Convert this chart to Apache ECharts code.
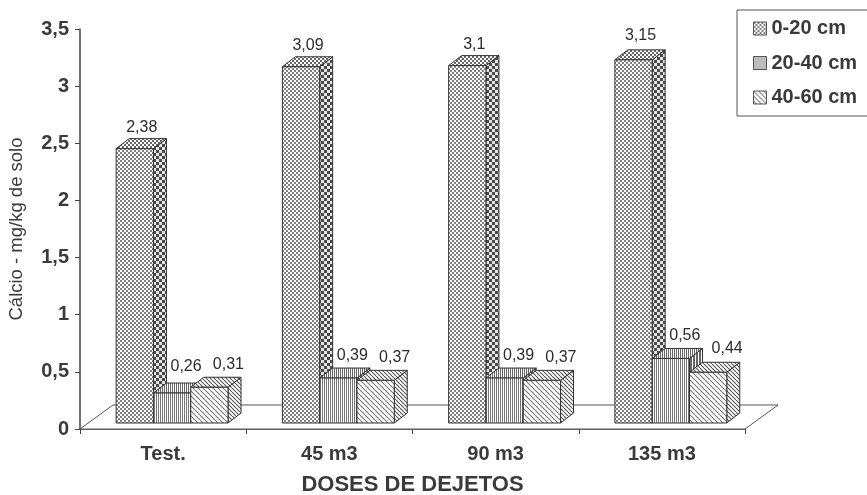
<!DOCTYPE html>
<html>
<head>
<meta charset="utf-8">
<style>html,body{margin:0;padding:0;background:#fff}#chart{width:867px;height:495px}</style>
<script src="https://cdn.jsdelivr.net/npm/echarts@6/dist/echarts.min.js"></script>
</head>
<body>
<div id="chart"></div>
<script>
// Calcium in soil by slurry dose and depth layer
const doses = ['Test.', '45 m3', '90 m3', '135 m3'];
const depthNames = ['0-20 cm', '20-40 cm', '40-60 cm'];
const layer0to20 = [2.38, 3.09, 3.1, 3.15];
const layer20to40 = [0.26, 0.39, 0.39, 0.56];
const layer40to60 = [0.31, 0.37, 0.37, 0.44];

const layers = [layer0to20, layer20to40, layer40to60];
const comma = v => String(v).replace('.', ',');

// Box geometry in pixels
const DEPTH_X = 13, DEPTH_Y = -10, BAR_W = 37.3, FIRST_BAR = -47;
const FLOOR_X = 33, FLOOR_Y = -24;

// Value label placement: sideways per layer, extra lift per label to keep them clear of neighbours
const labelDx = [1, 8, 13];
const labelLift = [[0, 0, 0, 3], [5, 1, 1, 2], [2, 2, 2, 3]];

function tile(w, h, paint, paper) {
  const c = document.createElement('canvas');
  c.width = w; c.height = h;
  const g = c.getContext('2d');
  g.fillStyle = paper || '#fff';
  g.fillRect(0, 0, w, h);
  paint(g);
  return { image: c, repeat: 'repeat' };
}
function checker(cell, color, paper) {
  return tile(cell * 2, cell * 2, g => {
    g.fillStyle = color;
    g.fillRect(0, 0, cell, cell);
    g.fillRect(cell, cell, cell, cell);
  }, paper);
}
function stripes(pitch, width, color) {
  return tile(pitch, 2, g => { g.fillStyle = color; g.fillRect(0, 0, width, 2); });
}
function diagonal(pitch, color) {
  return tile(pitch, pitch, g => {
    g.strokeStyle = color;
    g.lineWidth = 1.1;
    g.beginPath();
    for (let k = -pitch; k <= pitch; k += pitch) {
      g.moveTo(k, 0);
      g.lineTo(k + pitch, pitch);
    }
    g.stroke();
  });
}

const patterns = [
  { front: checker(2, '#808080'), top: checker(2, '#666'), side: checker(3, '#4a4a4a', '#e4e4e4') },
  { front: stripes(2, 1, '#777'), top: stripes(2, 1, '#666'), side: stripes(3, 2, '#666') },
  { front: diagonal(5, '#777'), top: diagonal(4, '#555'), side: diagonal(4, '#555') }
];

function boxRenderer(layerIndex) {
  return function (params, api) {
    const value = api.value(1);
    const base = api.coord([api.value(0), 0]);
    const top = api.coord([api.value(0), value]);
    const x0 = base[0] + FIRST_BAR + layerIndex * BAR_W;
    const x1 = x0 + BAR_W;
    const y0 = base[1], y1 = top[1];
    const line = { stroke: '#333', lineWidth: 1 };
    const p = patterns[layerIndex];
    return {
      type: 'group',
      children: [
        { type: 'polygon', shape: { points: [[x1, y0], [x1 + DEPTH_X, y0 + DEPTH_Y], [x1 + DEPTH_X, y1 + DEPTH_Y], [x1, y1]] },
          style: Object.assign({ fill: p.side }, line) },
        { type: 'polygon', shape: { points: [[x0, y1], [x1, y1], [x1 + DEPTH_X, y1 + DEPTH_Y], [x0 + DEPTH_X, y1 + DEPTH_Y]] },
          style: Object.assign({ fill: p.top }, line) },
        { type: 'rect', shape: { x: x0, y: y1, width: BAR_W, height: y0 - y1 },
          style: Object.assign({ fill: p.front }, line) },
        { type: 'text', x: (x0 + x1) / 2 + 6 + labelDx[layerIndex],
          y: y1 + DEPTH_Y - 11 - labelLift[layerIndex][params.dataIndex],
          style: { text: comma(value), fill: '#2c2c2c', font: '16px "Liberation Sans"', align: 'center', verticalAlign: 'middle' } }
      ]
    };
  };
}

function floorRenderer(params, api) {
  const cs = params.coordSys;
  const y = cs.y + cs.height, xl = cs.x, xr = cs.x + cs.width;
  return {
    type: 'polygon',
    shape: { points: [[xl, y], [xl + FLOOR_X, y + FLOOR_Y], [xr + FLOOR_X, y + FLOOR_Y], [xr, y]] },
    style: { fill: '#fff', stroke: '#555', lineWidth: 1 }
  };
}

const labelFont = { fontFamily: 'Liberation Sans', fontWeight: 'bold', fontSize: 20, color: '#3a3a3a' };

const option = {
  animation: false,
  backgroundColor: '#fff',
  legend: {
    orient: 'vertical',
    left: 737, top: 10,
    padding: [8.5, 40, 8.5, 16],
    itemWidth: 13, itemHeight: 13, itemGap: 14.5,
    borderColor: '#555', borderWidth: 1,
    backgroundColor: '#fff',
    icon: 'rect',
    selectedMode: false,
    itemStyle: { borderColor: '#555', borderWidth: 1 },
    textStyle: labelFont,
    data: depthNames
  },
  grid: [
    { left: 80, top: 29, width: 665, height: 400, outerBoundsMode: 'none' },
    { left: 80, top: 19.5, width: 665, height: 403.5, outerBoundsMode: 'none' }
  ],
  xAxis: [
    { type: 'category', gridIndex: 0, data: doses,
      name: 'DOSES DE DEJETOS', nameLocation: 'middle', nameGap: 45,
      nameTextStyle: Object.assign({}, labelFont, { fontSize: 22 }),
      axisLine: { lineStyle: { color: '#444', width: 1.5 } },
      axisTick: { show: true, length: 5, lineStyle: { color: '#444' } },
      axisLabel: Object.assign({ margin: 15, interval: 0 }, labelFont) },
    { type: 'category', gridIndex: 1, data: doses, show: false }
  ],
  yAxis: [
    { type: 'value', gridIndex: 0, min: 0, max: 3.5, interval: 0.5,
      name: 'Cálcio - mg/kg de solo', nameLocation: 'middle', nameGap: 54, nameRotate: 90,
      nameTextStyle: { fontFamily: 'Liberation Sans', fontSize: 18.5, color: '#3a3a3a' },
      axisLine: { show: true, lineStyle: { color: '#444', width: 1.5 } },
      axisTick: { show: true, length: 5, lineStyle: { color: '#444' } },
      splitLine: { show: false },
      axisLabel: Object.assign({ margin: 11, formatter: v => comma(v) }, labelFont) },
    { type: 'value', gridIndex: 1, min: 0, max: 3.5, show: false, splitLine: { show: false } }
  ],
  series: [
    { type: 'custom', name: 'floor', xAxisIndex: 0, yAxisIndex: 0, z: 1, silent: true,
      renderItem: floorRenderer, data: [[0, 0]] }
  ].concat(layers.map((values, i) => ({
    type: 'custom',
    name: depthNames[i],
    xAxisIndex: 1, yAxisIndex: 1,
    z: 3 + i,
    itemStyle: { color: patterns[i].front },
    renderItem: boxRenderer(i),
    encode: { x: 0, y: 1 },
    data: values.map((v, k) => [k, v])
  })))
};

echarts.init(document.getElementById('chart')).setOption(option);
</script>
</body>
</html>
